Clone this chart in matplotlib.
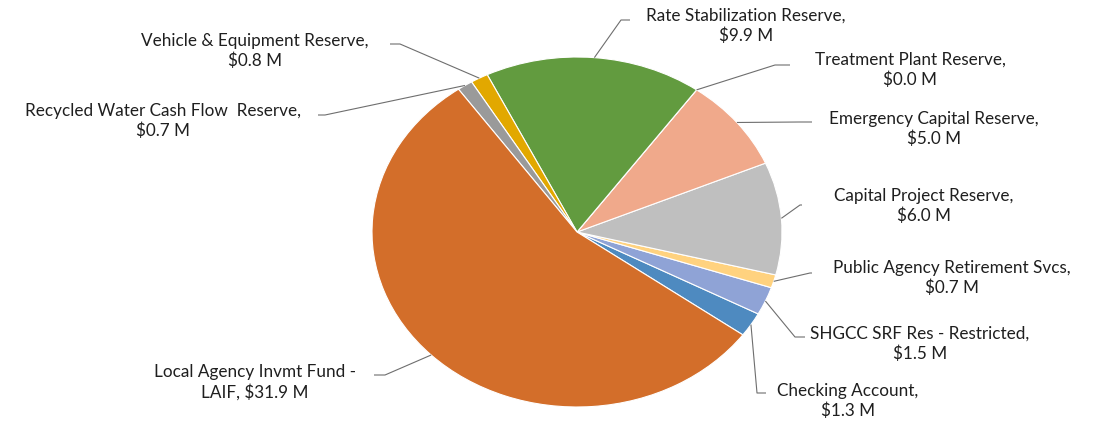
import numpy as np
import matplotlib
matplotlib.use("Agg")
import matplotlib.pyplot as plt

# ---- data ----
names = ["Checking Account", "SHGCC SRF Res - Restricted", "Public Agency Retirement Svcs",
         "Capital Project Reserve", "Emergency Capital Reserve", "Treatment Plant Reserve",
         "Rate Stabilization Reserve", "Vehicle & Equipment Reserve",
         "Recycled Water Cash Flow  Reserve", "Local Agency Invmt Fund -\nLAIF"]
values = [1.3, 1.5, 0.7, 6.0, 5.0, 0.0, 9.9, 0.8, 0.7, 31.9]
colors = ["#4E8AC0", "#8FA3D6", "#FFD27F", "#BFBFBF", "#F0A98B", "#5B9BD5",
          "#629B3F", "#E2A800", "#9A9A9A", "#D36E2A"]

# ---- layout (pixels) ----
W, H = 1113, 423
cx, cy, rx, ry = 577, 232, 205, 175

def p2d(px, py):
    return ((px - cx) / rx, (cy - py) / ry)

# label text center, elbow point, text-side end of leader line
label_layout = [
    ((848, 401), (757, 393), (766, 393)),
    ((920, 344), (795, 337), (805, 337)),
    ((952, 278), (810, 273), (812, 273)),
    ((924, 206), (800, 205), (802, 205)),
    ((934, 129), (800, 122), (812, 122)),
    ((910, 70), (775, 65), (790, 65)),
    ((746, 26), (621, 20), (630, 20)),
    ((255, 51), (400, 44), (390, 44)),
    ((163, 121), (325, 115), (318, 115)),
    ((255, 382), (385, 375), (374, 375)),
]

fig = plt.figure(figsize=(W / 100, H / 100), dpi=100)
ax = fig.add_axes([0, 0, 1, 1])

start = -36.0
wedges, _ = ax.pie(values, colors=colors, startangle=start, counterclock=True,
                   radius=1.0, center=(0, 0), frame=False,
                   wedgeprops=dict(edgecolor="white", linewidth=0.8))
ax.set_xlim(-cx / rx, (W - cx) / rx)
ax.set_ylim(-(H - cy) / ry, cy / ry)
ax.set_aspect("auto")
ax.axis("off")

font = ["Lato", "DejaVu Sans"]
for i, w in enumerate(wedges):
    mid = np.deg2rad((w.theta1 + w.theta2) / 2)
    ex, ey = np.cos(mid), np.sin(mid)
    (tx, ty), elbow, tend = label_layout[i]
    bx, by = p2d(*elbow)
    qx, qy = p2d(*tend)
    ax.plot([ex, bx, qx], [ey, by, qy], color="#6E6E6E", lw=0.8, solid_capstyle="butt")
    if i == 9:
        txt = "Local Agency Invmt Fund -\nLAIF, $%.1f M" % values[i]
    else:
        txt = "%s,\n$%.1f M" % (names[i], values[i])
    x, y = p2d(tx, ty)
    ax.text(x, y, txt, ha="center", va="center", multialignment="center",
            fontsize=12.3, family=font, color="#1F1F1F", linespacing=1.25)

fig.savefig("out.png", dpi=100, facecolor="white")
